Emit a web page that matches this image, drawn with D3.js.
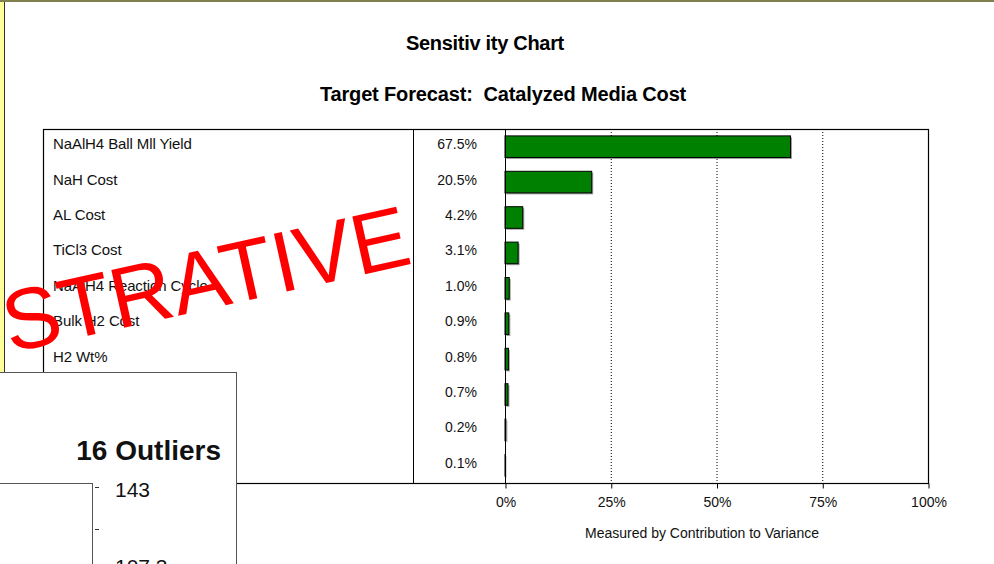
<!DOCTYPE html>
<html><head><meta charset="utf-8">
<script src="https://cdn.jsdelivr.net/npm/d3@7"></script>
<style>
html,body{margin:0;padding:0;background:#fff;}
svg text{font-family:"Liberation Sans",Arial,sans-serif;white-space:pre;}
</style></head>
<body>
<svg id="chart" width="994" height="564"></svg>
<script>
const categories = ["NaAlH4 Ball Mll Yield","NaH Cost","AL Cost","TiCl3 Cost","NaAlH4 Reaction Cycle","Bulk H2 Cost","H2 Wt%","Labor Cost","Capital Cost","Electricity Cost"];
const values = [67.5,20.5,4.2,3.1,1.0,0.9,0.8,0.7,0.2,0.1];
const xTicks = [0,25,50,75,100];
const gridTicks = [25,50,75];
const titleLines = ["Sensitiv ity Chart","Target Forecast:  Catalyzed Media Cost"];
const axisTitle = "Measured by Contribution to Variance";
const watermark = "STRATIVE";
const outlierTitle = "16 Outliers";
const outlierTicks = ["143","107.3"];

const svg = d3.select("#chart");
const box = {left:43, top:129, right:928, bottom:483, divider:413};

// frame decorations
svg.append("rect").attr("x",0).attr("y",0).attr("width",4).attr("height",564).attr("fill","#ffff99");
svg.append("line").attr("x1",4.5).attr("x2",4.5).attr("y1",2).attr("y2",564).attr("stroke","#333").attr("stroke-width",1);
svg.append("rect").attr("x",0).attr("y",0).attr("width",994).attr("height",2).attr("fill","#7f7f50");

// titles
svg.append("text").attr("x",485).attr("y",50).attr("text-anchor","middle")
  .attr("font-size",20).attr("font-weight","bold").attr("letter-spacing",-0.3).text(titleLines[0]);
svg.append("text").attr("x",503).attr("y",101).attr("text-anchor","middle")
  .attr("font-size",20).attr("font-weight","bold").attr("letter-spacing",-0.15).text(titleLines[1]);

const x = d3.scaleLinear().domain([0,100]).range([505, box.right]);
const y = d3.scaleBand().domain(categories).range([box.top, box.bottom]).paddingInner(0.39).paddingOuter(0.195);

// grid dotted lines
svg.append("g").selectAll("line").data(gridTicks).join("line")
  .attr("x1",d=>x(d)+0.5).attr("x2",d=>x(d)+0.5).attr("y1",box.top).attr("y2",box.bottom)
  .attr("stroke","#000").attr("stroke-width",1).attr("stroke-dasharray","1,2");

// bars shadow + bars
svg.append("g").selectAll("rect").data(values).join("rect")
  .attr("x",x(0)+1.5).attr("y",(d,i)=>y(categories[i])+1.5)
  .attr("width",d=>Math.max(0,x(d)-x(0))).attr("height",y.bandwidth())
  .attr("fill","#a0a0a0");
svg.append("g").selectAll("rect").data(values).join("rect")
  .attr("x",x(0)).attr("y",(d,i)=>y(categories[i]))
  .attr("width",d=>x(d)-x(0)).attr("height",y.bandwidth())
  .attr("fill","#008000").attr("stroke","#000").attr("stroke-width",1);

// box
svg.append("rect").attr("x",box.left+0.5).attr("y",box.top+0.5)
  .attr("width",box.right-box.left).attr("height",box.bottom-box.top)
  .attr("fill","none").attr("stroke","#000").attr("stroke-width",1.2);
svg.append("line").attr("x1",box.divider+0.5).attr("x2",box.divider+0.5).attr("y1",box.top).attr("y2",box.bottom).attr("stroke","#000");
svg.append("line").attr("x1",x(0)+0.5).attr("x2",x(0)+0.5).attr("y1",box.top).attr("y2",box.bottom).attr("stroke","#000");

// labels
svg.append("g").selectAll("text").data(categories).join("text")
  .attr("x",53).attr("y",d=>y(d)+y.bandwidth()/2+2.5)
  .attr("font-size",15).attr("letter-spacing",-0.1).attr("fill","#111").text(d=>d);
svg.append("g").selectAll("text").data(values).join("text")
  .attr("x",477).attr("y",(d,i)=>y(categories[i])+y.bandwidth()/2+2.5).attr("text-anchor","end")
  .attr("font-size",14).attr("fill","#111").text(d=>d.toFixed(1)+"%");

// x axis
const xAxis = d3.axisBottom(x).tickValues(xTicks).tickFormat(d=>d+"%").tickSize(5).tickPadding(9);
const ga = svg.append("g").attr("transform",`translate(0.5,${box.bottom+0.5})`).call(xAxis);
ga.select(".domain").remove();
ga.selectAll("text").attr("font-size",14).attr("fill","#111").attr("font-family","Liberation Sans, Arial, sans-serif");
svg.append("text").attr("x",702).attr("y",538).attr("text-anchor","middle")
  .attr("font-size",14).attr("fill","#111").text(axisTitle);

// watermark
svg.append("text").attr("transform","translate(10,353) rotate(-12.5)")
  .attr("font-size",86).attr("fill","#ff0000").text(watermark);

// outlier panel
const p = svg.append("g");
p.append("rect").attr("x",-2).attr("y",372.5).attr("width",238.5).attr("height",200)
  .attr("fill","#fff").attr("stroke","#555").attr("stroke-width",1);
p.append("text").attr("x",221).attr("y",460).attr("text-anchor","end")
  .attr("font-size",28).attr("font-weight","bold").attr("fill","#111").text(outlierTitle);
p.append("rect").attr("x",-2).attr("y",483.5).attr("width",94.5).attr("height",100)
  .attr("fill","#fff").attr("stroke","#555").attr("stroke-width",1);
const oy = d3.scalePoint().domain(outlierTicks).range([487,564]);
p.selectAll("line.t").data([487,529]).join("line").attr("class","t")
  .attr("x1",95).attr("x2",99).attr("y1",d=>d+0.5).attr("y2",d=>d+0.5).attr("stroke","#333");
p.selectAll("text.o").data(outlierTicks).join("text").attr("class","o")
  .attr("x",115).attr("y",d=>oy(d)+10).attr("font-size",21).attr("fill","#111").text(d=>d);
</script>
</body></html>
